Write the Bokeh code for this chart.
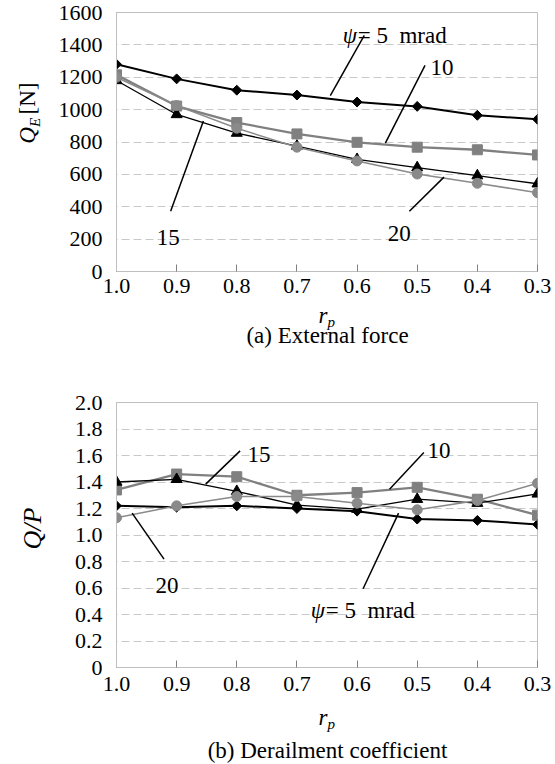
from bokeh.plotting import figure
from bokeh.models import Range1d, FixedTicker, Label
from bokeh.layouts import column, row
from bokeh.core.properties import value
from bokeh.embed import file_html
from bokeh.resources import INLINE

# ---------------- data ----------------
rp = [1.0, 0.9, 0.8, 0.7, 0.6, 0.5, 0.4, 0.3]
x_tick_labels = ["1.0", "0.9", "0.8", "0.7", "0.6", "0.5", "0.4", "0.3"]

# (a) External force Q_E [N]
qe_5 = [1280, 1190, 1120, 1090, 1047, 1020, 965, 940]
qe_10 = [1215, 1022, 920, 850, 798, 768, 752, 720]
qe_15 = [1180, 970, 855, 775, 693, 642, 592, 542]
qe_20 = [1200, 1025, 885, 768, 683, 602, 545, 487]
qe_ticks = [0, 200, 400, 600, 800, 1000, 1200, 1400, 1600]
qe_tick_labels = ["0", "200", "400", "600", "800", "1000", "1200", "1400", "1600"]

# (b) Derailment coefficient Q/P
qp_5 = [1.22, 1.21, 1.22, 1.20, 1.18, 1.12, 1.11, 1.08]
qp_10 = [1.34, 1.46, 1.44, 1.30, 1.32, 1.36, 1.27, 1.15]
qp_15 = [1.40, 1.42, 1.33, 1.225, 1.195, 1.27, 1.24, 1.31]
qp_20 = [1.13, 1.22, 1.29, 1.29, 1.24, 1.19, 1.26, 1.39]
qp_ticks = [0, 0.2, 0.4, 0.6, 0.8, 1.0, 1.2, 1.4, 1.6, 1.8, 2.0]
qp_tick_labels = ["0", "0.2", "0.4", "0.6", "0.8", "1.0", "1.2", "1.4", "1.6", "1.8", "2.0"]

SERIF = "Liberation Serif"
BLACK = "#000000"
GRAY = "#808080"
FRAME = "#bfbfbf"
GRID = "#c8c8c8"
NB = "\u00a0"
LEFT_W = 50
ROT = 1.5707963


def make_fig(height, ymax, yticks, ylabels, top, bottom, standoff):
    p = figure(width=555 - LEFT_W, height=height, x_range=Range1d(1.0, 0.3),
               y_range=Range1d(0, ymax), output_backend="svg",
               toolbar_location=None, min_border_left=116 - LEFT_W,
               min_border_right=18, min_border_top=top, min_border_bottom=bottom)
    p.background_fill_color = "white"
    p.border_fill_color = "white"
    p.outline_line_color = FRAME
    p.outline_line_width = 1
    p.xgrid.visible = False
    p.ygrid.ticker = FixedTicker(ticks=yticks)
    p.ygrid.grid_line_color = GRID
    p.ygrid.grid_line_dash = "8 4"
    p.ygrid.grid_line_width = 1

    p.xaxis.ticker = FixedTicker(ticks=rp)
    p.xaxis.major_label_overrides = {v: s for v, s in zip(rp, x_tick_labels)}
    p.xaxis.axis_line_color = FRAME
    p.xaxis.major_tick_line_color = GRAY
    p.xaxis.major_tick_in = 7
    p.xaxis.major_tick_out = 0
    p.xaxis.minor_tick_line_color = None
    p.xaxis.major_label_text_font = SERIF
    p.xaxis.major_label_text_font_size = "22px"
    p.xaxis.major_label_text_color = BLACK
    p.xaxis.major_label_standoff = standoff

    p.yaxis.ticker = FixedTicker(ticks=yticks)
    p.yaxis.major_label_overrides = {v: s for v, s in zip(yticks, ylabels)}
    p.yaxis.axis_line_color = FRAME
    p.yaxis.major_tick_line_color = None
    p.yaxis.major_tick_in = 0
    p.yaxis.major_tick_out = 0
    p.yaxis.minor_tick_line_color = None
    p.yaxis.major_label_text_font = SERIF
    p.yaxis.major_label_text_font_size = "22px"
    p.yaxis.major_label_text_color = BLACK
    p.yaxis.major_label_standoff = 14
    return p


def text_fig(width, height, y0=None, y1=None):
    # blank canvas; data units are pixels measured upward.  When the figure sits in a
    # row next to a plot, its frame is aligned to that plot's frame (y0..y1 given).
    yr = Range1d(0, height) if y0 is None else Range1d(y0, y1)
    p = figure(width=width, height=height, x_range=Range1d(0, width),
               y_range=yr, output_backend="svg",
               toolbar_location=None, x_axis_location=None, y_axis_location=None,
               min_border=0, min_border_left=0, min_border_right=0,
               min_border_top=0, min_border_bottom=0)
    p.outline_line_color = None
    p.xgrid.visible = False
    p.ygrid.visible = False
    p.background_fill_color = "white"
    p.border_fill_color = "white"
    return p


def draw_series(p, s5, s10, s15, s20):
    p.line(rp, s5, line_color=BLACK, line_width=2.0)
    p.scatter(rp, s5, marker="square", angle=0.785398, size=7, color=BLACK)
    p.line(rp, s10, line_color=GRAY, line_width=2.3)
    p.scatter(rp, s10, marker="square", size=10, color=GRAY)
    p.line(rp, s15, line_color=BLACK, line_width=1.3)
    p.scatter(rp, s15, marker="triangle", size=11, color=BLACK)
    p.line(rp, s20, line_color="#8a8a8a", line_width=1.5)
    p.scatter(rp, s20, marker="circle", size=10, color="#8a8a8a")


def txt(p, x, y, text, size="23px", style="normal", align="left",
        baseline="alphabetic"):
    p.add_layout(Label(x=x, y=y, text=text,
                       text_font=SERIF, text_font_size=size, text_font_style=style,
                       text_color=BLACK, text_align=align, text_baseline=baseline))


def gtxt(p, x, y, text, size="23px", style="normal", align="left",
         baseline="alphabetic", angle=0.0):
    p.text(x=[x], y=[y], text=[text], angle=angle, text_font=value(SERIF),
           text_font_size=value(size), text_font_style=style, text_color=BLACK,
           text_align=align, text_baseline=baseline)


# ======================= (a) =======================
H1 = 304          # plot block height; frame spans y 12..271
B1 = 380 - H1
F1_TOP, F1_BOT = 12, 271
p1 = make_fig(H1, 1600, qe_ticks, qe_tick_labels, F1_TOP, H1 - F1_BOT, 7)
draw_series(p1, qe_5, qe_10, qe_15, qe_20)

lead_a_x0 = [0.588, 0.487, 0.513, 0.910]
lead_a_y0 = [1458, 1273, 372, 372]
lead_a_x1 = [0.6445, 0.553, 0.4555, 0.8555]
lead_a_y1 = [1087, 793, 583, 929]
p1.segment(lead_a_x0, lead_a_y0, lead_a_x1, lead_a_y1, line_color=BLACK, line_width=1.5)

txt(p1, 0.624, 1458, "ψ", style="italic")
txt(p1, 0.599, 1458, "= 5" + NB + NB + "mrad")
txt(p1, 0.478, 1262, "10")
txt(p1, 0.549, 233, "20")
txt(p1, 0.933, 208, "15")

# left label column: Q_E [N]; y = H1 - (pixel row from block top)
l1 = text_fig(LEFT_W, H1, H1 - F1_BOT, H1 - F1_TOP)
gtxt(l1, 27, H1 - 135, "Q", style="italic", align="center", baseline="middle", angle=ROT)
gtxt(l1, 34, H1 - 122, "E", size="15px", style="italic", align="center",
     baseline="middle", angle=ROT)
gtxt(l1, 27, H1 - 98, "[N]", align="center", baseline="middle", angle=ROT)

# caption row: r_p and (a)
b1 = text_fig(555, B1)
gtxt(b1, 327, B1 - (315 - H1), "r", style="italic", align="right")
gtxt(b1, 327, B1 - (321 - H1), "p", size="15px", style="italic")
gtxt(b1, 327, B1 - (335 - H1), "(a) External force", align="center")

# ======================= (b) =======================
H2 = 322          # frame spans y 22..287 within this block (block starts at 380)
B2 = 384 - H2
F2_TOP, F2_BOT = 22, 287
p2 = make_fig(H2, 2.0, qp_ticks, qp_tick_labels, F2_TOP, H2 - F2_BOT, 9)
draw_series(p2, qp_5, qp_10, qp_15, qp_20)

lead_b_x0 = [0.531, 0.489, 0.7945, 0.921]
lead_b_y0 = [1.165, 1.623, 1.635, 0.818]
lead_b_x1 = [0.590, 0.546, 0.8517, 0.974]
lead_b_y1 = [0.594, 1.346, 1.384, 1.165]
p2.segment(lead_b_x0, lead_b_y0, lead_b_x1, lead_b_y1, line_color=BLACK, line_width=1.5)

txt(p2, 0.677, 0.428, "ψ", style="italic")
txt(p2, 0.652, 0.428, "= 5" + NB + NB + "mrad")
txt(p2, 0.483, 1.636, "10")
txt(p2, 0.782, 1.608, "15")
txt(p2, 0.935, 0.617, "20")

l2 = text_fig(LEFT_W, H2, H2 - F2_BOT, H2 - F2_TOP)
gtxt(l2, 32, H2 - 148, "Q/P", size="26px", style="italic", align="center",
     baseline="middle", angle=ROT)

b2 = text_fig(555, B2)
top2 = 380 + H2
gtxt(b2, 327, B2 - (717 - top2), "r", style="italic", align="right")
gtxt(b2, 327, B2 - (723 - top2), "p", size="15px", style="italic")
gtxt(b2, 327, B2 - (750 - top2), "(b) Derailment coefficient", align="center")

layout = column(row(l1, p1, spacing=0), b1, row(l2, p2, spacing=0), b2, spacing=0)
open("out.html", "w").write(file_html(layout, INLINE))
